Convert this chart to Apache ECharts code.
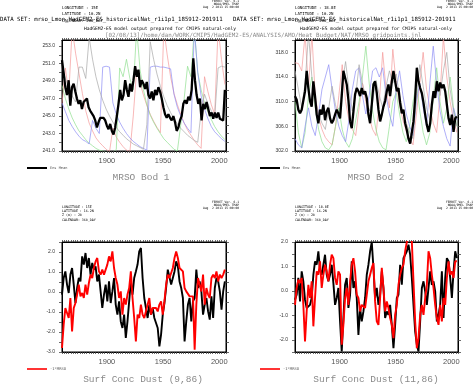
<!DOCTYPE html>
<html><head><meta charset="utf-8">
<script src="https://cdn.jsdelivr.net/npm/echarts@6/dist/echarts.min.js"></script>
<style>html,body{margin:0;padding:0;background:#fff}#c{width:474px;height:384px}</style>
</head><body><div id="c"></div>
<script>
// ---- tick labels ----
const xLabelYears = [1900, 1950, 2000];
const yLabels1 = [241, 243, 245, 247, 249, 251, 253];
const yLabels2 = [302, 306, 310, 314, 318];
const yLabels3 = [-3, -2, -1, 0, 1, 2];
const yLabels4 = [-2, -1, 0, 1, 2];

// ---- panel 1: MRSO Bod 1 ----
const ensMean1 = [251.4,249.9,248.3,247.4,249.1,246.2,248.3,248.7,247.8,247.0,
246.4,246.8,245.8,246.6,246.4,247.0,246.0,245.6,245.8,245.0,
244.5,243.7,244.3,244.8,245.0,244.8,244.5,243.9,243.5,244.1,
243.3,242.9,243.7,245.0,246.4,248.0,246.8,247.4,249.1,248.0,
247.2,248.7,247.8,249.1,250.7,249.5,250.3,248.3,249.1,248.7,
248.1,248.9,247.4,247.0,247.8,246.8,248.0,247.4,248.3,247.8,
247.0,246.0,245.2,244.8,245.2,244.8,244.5,245.0,244.3,243.3,
243.7,244.5,245.0,246.4,246.8,246.4,247.2,246.8,248.0,251.6,
249.1,247.4,246.4,247.0,244.5,246.4,245.8,246.6,245.8,245.0,
245.4,244.7,245.4,244.8,245.4,244.7,244.8,244.5,248.0];
const red1 = [246.4,250.5,247.5,255,252.2,249.9,247.6,245.6,244.2,243.3,242.5,242,241.6,241.2,240.9,243.6,242.6,242,241.5,241.1,240.9,245,250.3,248.8,247.4,246.2,245.2,244.4,243.7,243.1,255,252,249.5,247.6,246.3,245.2,244.2,243.4,242.8,242.2,241.7,241.3,249.5,247.8,246.3,245.2,255,251.5,248.6];
const green1 = [248.5,247,245.8,244.8,244,243.3,242.8,242.3,241.9,241.6,241.3,241.1,241,240.9,240.8,240.8,241.2,250.5,249.5,251.5,249.3,248,255,250.3,248,246.3,245.1,244.3,243.6,243,242.4,242,241.6,241.2,241,244,247,250.7,249.5,255,250,248,246.5,245.5,244.6,243.8,243.2,242.7,242.3];
const blue1 = [246.5,245.5,244.5,243.8,243.2,242.7,242.3,242.1,241.8,244.5,243.6,243,250.6,250.7,250.6,246.5,245.2,244.3,243.6,243,242.5,242.1,241.8,241.5,241.3,241.1,250.6,250.7,250.7,250.6,250.6,250.5,250.4,247.5,246,245,244.2,243.6,243.1,255,250,247.3,245.8,244.7,243.8,243.2,242.8,242.4,242.1];
const gray1 = [250.7,249.3,248.2,247.3,246.6,250.6,250.6,249.3,254,251.5,249.5,248,246.8,245.8,245,244.3,243.7,243.2,242.8,242.4,242.1,241.8,241.6,241.4,241.2,244,253.5,251.5,249.8,248.4,247.2,246.2,245.4,244.7,244.1,243.6,243.2,242.8,242.5,242.2,242,245.5,247.5,246.4,245.6,244.9,250.5,250.7,250.6];

// ---- panel 2: MRSO Bod 2 ----
const ensMean2 = [310.9,310.3,308.7,308.1,308.7,308.4,311.7,315.0,312.2,310.1,
309.2,313.3,310.9,307.9,306.5,308.7,307.9,309.5,307.0,308.4,
309.0,307.3,306.5,307.0,307.9,308.7,308.1,307.3,310.9,315.0,
315.3,312.8,310.3,306.8,305.7,308.4,311.2,312.2,311.7,310.9,
312.2,311.2,311.7,310.6,307.9,306.5,309.5,312.8,313.3,311.4,
308.7,306.8,307.9,309.2,310.1,311.7,312.8,310.9,313.3,315.0,
313.3,311.7,312.2,309.8,308.1,308.7,306.5,305.4,304.0,303.2,
302.9,306.8,310.6,315.5,313.3,312.2,311.4,309.8,307.9,306.2,
305.1,306.5,309.5,311.7,310.6,313.3,311.7,313.1,312.2,312.8,
311.7,309.5,307.3,306.2,307.9,305.1,307.3,307.6];
const red2 = [316.3,316.2,315,321,312,321,311,307.5,305.5,304.2,303.5,303,306,311,316,310,307,305.5,304.5,309,313,310,307.5,305.5,304.5,310,318,312,309,318.5,313,309.5,307,305.2,304,303,308,313,318,312,309,306.5,305,311,320.5,314,310,307,305];
const green2 = [310,305,302.5,305,311,314,309,305.5,303.5,302.5,302.2,303,306,309,305.5,303.5,302.6,304,307,310,314,319,313,308.5,305.5,303.5,302.5,302.2,306,310,311.5,308,305,303.5,306,310,313,308.5,305,303,305,310.5,315.5,310,306.5,309,314,309,306];
const blue2 = [304,303,302.5,306,309,306,304.5,308,312,314,316,312,308.5,306,304.5,303.5,307,312,315,315.5,311,308,311,315,315.5,314,315.5,311,308,306,312,315,311,308,306,304.5,310,313,309,306,313,319,313,308.5,306,304,302.8,309,307];
const gray2 = [315,312,309,313,321,314,310.5,308,306.5,305.5,309,312.5,309.5,307.5,313,316.5,312,308.5,311,316,313,310.5,308.5,310,313.5,311,309,312.5,315,313,314.5,311,308.5,306.5,305,304,311,316,312.5,309,307,311,313.5,311,315,318,312,308.5,306];

// ---- panel 3: Surf Conc Dust (9,86) ----
const dust3 = [-0.13,0.7,1.03,0.37,-0.05,0.87,1.2,0.37,-0.55,0.2,
0.7,0.53,1.78,1.37,1.95,1.2,1.7,0.87,1.45,1.12,
1.28,0.53,0.87,0.03,-0.8,-0.13,0.37,-0.47,0.53,-0.55,
0.03,0.7,-0.63,-1.13,-0.47,-1.47,-1.8,-1.13,-2.3,-1.47,
-0.47,0.53,-0.13,0.7,1.03,1.37,2.03,2.2,0.7,-0.3,
-0.8,-1.3,-0.63,-1.13,-0.8,-1.3,-1.55,-1.8,-2.72,-2.13,
-1.13,-0.55,0.2,1.12,1.03,0.37,0.7,1.03,1.53,1.28,
0.53,0.2,-0.3,-2.47,-1.47,-0.63,-0.3,-1.47,-0.47,-0.3,
1.12,0.2,0.53,0.03,-1.13,-0.63,-0.3,-0.97,-1.38,-0.22,
-1.3,0.2,0.7,0.53,0.03,-0.88,0.03,0.53];
const negMrso3 = [-2.8,-1.63,-0.8,-0.8,-1.3,-0.3,-1.97,-0.8,-0.55,-0.13,
0.37,-0.22,-0.05,-0.3,0.37,-0.13,0.45,0.87,0.7,1.2,
1.53,1.7,1.03,0.87,1.12,0.87,0.87,1.37,1.78,1.53,
2.03,1.2,0.7,0.37,-0.3,0.03,-1.13,-0.3,-0.63,-0.13,
0.2,1.03,-0.3,-1.3,-2.47,-1.13,-1.3,-0.63,-1.13,-1.3,
-1.38,-0.63,-0.3,-1.13,-0.8,-0.88,-0.8,-0.97,-0.63,-0.47,
-1.13,-0.47,0.37,0.87,0.7,0.78,1.2,1.7,2.03,1.7,
1.2,1.28,1.03,0.2,0.03,-0.05,-0.22,-0.3,-0.22,-2.88,
-0.63,0.7,0.37,0.03,0.87,-0.63,0.2,-0.13,-0.3,0.7,
0.87,0.7,1.03,0.53,0.87,0.7,0.87,1.12];

// ---- panel 4: Surf Conc Dust (11,86) ----
const dust4 = [-0.36,-0.16,0.53,-0.43,0.8,0.39,-0.36,-0.7,-0.77,-0.57,
-0.29,0.66,1.21,1.07,1.62,0.87,0.66,1.07,1.48,0.66,
0.39,0.66,1.07,0.32,-0.57,-0.29,0.12,-1.25,-2.48,-1.11,
0.25,0.53,-0.7,-0.16,1.21,0.12,0.39,-0.29,-1.8,-0.7,
-1.25,-0.84,-0.29,0.66,1.07,1.62,2.0,0.94,-0.29,0.12,
-0.57,-0.16,0.8,0.12,-1.11,-0.84,-0.98,-0.57,-1.39,-2.34,
-1.39,-0.29,-0.16,1.07,0.25,1.34,1.48,1.62,1.89,1.48,
0.53,0.59,-1.66,-2.2,-2.48,-1.25,0.12,0.39,-0.02,-0.57,
0.12,0.8,0.25,0.39,-0.02,-1.25,-0.98,-0.57,0.8,-1.11,
0.53,1.34,1.21,0.53,-0.29,0.8,1.62,1.34];
const negMrso4 = [-0.57,0.12,0.46,0.32,0.53,-0.57,-2.07,-0.84,0.25,-0.29,
0.39,-1.45,-0.29,0.8,0.66,1.21,0.12,0.66,1.07,0.8,
0.39,1.07,1.48,1.34,0.53,0.25,0.8,0.66,-2.2,-1.39,
-0.29,0.12,-0.57,0.39,1.07,1.34,0.8,-0.16,-0.29,-0.84,
-0.57,-0.57,-0.7,-0.16,0.39,0.66,0.94,1.14,-0.43,-1.25,
-1.39,-0.29,0.94,0.12,-0.84,-0.43,-0.7,-1.11,-1.39,-1.93,
-0.98,-0.57,0.25,0.66,0.94,1.07,1.62,2.0,2.16,2.16,
2.03,0.39,-1.25,-2.34,-1.93,-0.98,-0.57,-0.98,-0.29,0.25,
1.62,1.34,0.66,0.12,-0.57,-1.11,-1.39,-0.57,-1.25,-0.29,
-0.57,0.53,1.21,0.66,0.8,0.53,1.21,1.21];

// ---- build ----
const X0 = 1860, X1 = 2006;
const withYears = vals => vals.map((v, i) => [X0 + i * (X1 - 1 - X0) / (vals.length - 1), v]);
const range = (a, b, s) => { const r = []; for (let v = a; v <= b + 1e-9; v += s) r.push(+v.toFixed(3)); return r; };
const xTicks = range(1860, 2006, 2);

const grids = [
  {left: 62, top: 40, width: 164, height: 111},
  {left: 295, top: 40, width: 163, height: 111},
  {left: 62, top: 242, width: 164, height: 110},
  {left: 295, top: 242, width: 163, height: 110}
].map(g => Object.assign({show: true, borderColor: '#000', borderWidth: 1, backgroundColor: '#fff'}, g));

const yDefs = [
  {min: 241, max: 253.7, labels: yLabels1, ticks: range(241, 253, 1)},
  {min: 302, max: 320, labels: yLabels2, ticks: range(302, 320, 2)},
  {min: -3, max: 2.5, labels: yLabels3, ticks: range(-3, 2.5, 0.5)},
  {min: -2.5, max: 2, labels: yLabels4, ticks: range(-2.5, 2, 0.5)}
];

const xAxes = [], yAxes = [];
['bottom', 'top'].forEach(pos => {
  for (let g = 0; g < 4; g++) xAxes.push({
    type: 'value', gridIndex: g, position: pos, min: X0, max: X1,
    axisLine: {show: true, onZero: false, lineStyle: {color: '#000', width: 1}},
    axisTick: {show: true, customValues: xTicks, length: 2, lineStyle: {color: '#444', width: 0.8}},
    axisLabel: {show: pos === 'bottom', customValues: xLabelYears, fontSize: 7.5, color: '#555',
      fontFamily: 'Liberation Sans', margin: 6, formatter: v => String(Math.round(v))},
    splitLine: {show: false}
  });
});
['left', 'right'].forEach(pos => {
  for (let g = 0; g < 4; g++) {
    const d = yDefs[g];
    yAxes.push({
      type: 'value', gridIndex: g, position: pos, min: d.min, max: d.max,
      axisLine: {show: true, onZero: false, lineStyle: {color: '#000', width: 1}},
      axisTick: {show: true, customValues: d.ticks, length: 3, lineStyle: {color: '#444', width: 0.8}},
      axisLabel: {show: pos === 'left', customValues: d.labels, fontSize: 5, color: '#333',
        fontFamily: 'Liberation Sans', margin: 7, formatter: v => v.toFixed(1)},
      splitLine: {show: false}
    });
  }
});

const thin = (data, g, color) => ({type: 'line', xAxisIndex: g, yAxisIndex: g, data: withYears(data),
  showSymbol: false, symbol: 'none', clip: true, lineStyle: {color, width: 0.7}, z: 2, silent: true});
const thick = (data, g, color, w) => ({type: 'line', xAxisIndex: g, yAxisIndex: g, data: withYears(data),
  showSymbol: false, symbol: 'none', clip: true, lineStyle: {color, width: w}, z: 5, silent: true});

const series = [
  thin(red1, 0, '#f59a9a'), thin(green1, 0, '#8fdf8f'), thin(blue1, 0, '#8c8cf5'), thin(gray1, 0, '#a8a8a8'),
  thick(ensMean1, 0, '#000', 2.3),
  thin(red2, 1, '#f59a9a'), thin(green2, 1, '#8fdf8f'), thin(blue2, 1, '#8c8cf5'), thin(gray2, 1, '#a8a8a8'),
  thick(ensMean2, 1, '#000', 2.3),
  thick(dust3, 2, '#000', 1.9), thick(negMrso3, 2, '#f00', 1.9),
  thick(dust4, 3, '#000', 1.9), thick(negMrso4, 3, '#f00', 1.9)
];

const MONO = 'DejaVu Sans Mono';
const txt = (text, x, y, size, opt = {}) => ({
  type: 'text', x, y, silent: true,
  style: {text, font: (opt.weight || 'normal') + ' ' + size + 'px "' + (opt.family || MONO) + '"',
    fill: opt.fill || '#000', align: opt.align || 'left', verticalAlign: 'middle'}
});
const stamp = (xr, y0) => [
  txt('FERRET Ver. 6.1', xr, y0, 3, {align: 'right'}),
  txt('NOAA/PMEL TMAP', xr, y0 + 3, 3, {align: 'right'}),
  txt('Aug  2 2013 15:00:00', xr, y0 + 6.2, 3, {align: 'right'})
];
const dataSet = 'DATA SET: mrso_Lmon_HadGEM2-ES_historicalNat_r1i1p1_185912-201911';
const modelTxt = 'HadGEM2-ES model output prepared for CMIP5 natural-only';
const pathTxt = '[02/08/13]/home/dan/WORK/CMIP5/HadGEM2-ES/ANALYSIS/AMO/Heat_Budget/NAT/MRSO_gridpoints.jnl';

const graphic = [
  ...stamp(239, 1.5), ...stamp(473, 1.5),
  txt('LONGITUDE : 15E', 62, 8.3, 4), txt('LATITUDE : 16.2N', 62, 14, 4),
  txt('LONGITUDE : 18.8E', 295, 8.3, 4), txt('LATITUDE : 16.2N', 295, 14, 4),
  txt(dataSet, 0, 19.5, 5.7), txt(dataSet, 233, 19.5, 5.7),
  txt('CALENDAR: 360_DAY', 62, 20.5, 4), txt('CALENDAR: 360_DAY', 295, 20.5, 4),
  txt(modelTxt, 160, 29, 4.6, {align: 'center'}), txt(modelTxt, 376, 29, 4.6, {align: 'center'}),
  txt(pathTxt, 105, 35.5, 5.85, {fill: '#8a8a8a'}),
  // legends top
  {type: 'line', shape: {x1: 27, y1: 168, x2: 47, y2: 168}, style: {stroke: '#000', lineWidth: 2}},
  txt('Ens Mean', 50, 168, 3.6, {fill: '#555'}),
  {type: 'line', shape: {x1: 260, y1: 168, x2: 280, y2: 168}, style: {stroke: '#000', lineWidth: 2}},
  txt('Ens Mean', 283, 168, 3.6, {fill: '#555'}),
  txt('MRSO Bod 1', 141, 177, 9.5, {family: 'Liberation Mono', fill: '#8a8a8a', align: 'center'}),
  txt('MRSO Bod 2', 376, 177, 9.5, {family: 'Liberation Mono', fill: '#8a8a8a', align: 'center'}),
  // bottom headers
  ...stamp(239, 202), ...stamp(473, 202),
  txt('LONGITUDE : 15E', 62, 207, 3.3), txt('LATITUDE : 16.2N', 62, 211.3, 3.3),
  txt('Z (m) : 20', 62, 215.6, 3.3), txt('CALENDAR: 360_DAY', 62, 220, 3.3),
  txt('LONGITUDE : 18.8E', 295, 207, 3.3), txt('LATITUDE : 16.2N', 295, 211.3, 3.3),
  txt('Z (m) : 20', 295, 215.6, 3.3), txt('CALENDAR: 360_DAY', 295, 220, 3.3),
  {type: 'line', shape: {x1: 27, y1: 369, x2: 47, y2: 369}, style: {stroke: '#f00', lineWidth: 1.6}},
  txt('-1*MRSO', 50, 369, 3.8, {fill: '#555'}),
  {type: 'line', shape: {x1: 260, y1: 369, x2: 280, y2: 369}, style: {stroke: '#f00', lineWidth: 1.6}},
  txt('-1*MRSO', 283, 369, 3.8, {fill: '#555'}),
  txt('Surf Conc Dust (9,86)', 143, 379, 9.5, {family: 'Liberation Mono', fill: '#8a8a8a', align: 'center'}),
  txt('Surf Conc Dust (11,86)', 376, 379, 9.5, {family: 'Liberation Mono', fill: '#8a8a8a', align: 'center'})
];

const chart = echarts.init(document.getElementById('c'), null, {renderer: 'canvas'});
chart.setOption({
  animation: false, backgroundColor: '#fff',
  grid: grids, xAxis: xAxes, yAxis: yAxes, series, graphic
});
</script></body></html>
